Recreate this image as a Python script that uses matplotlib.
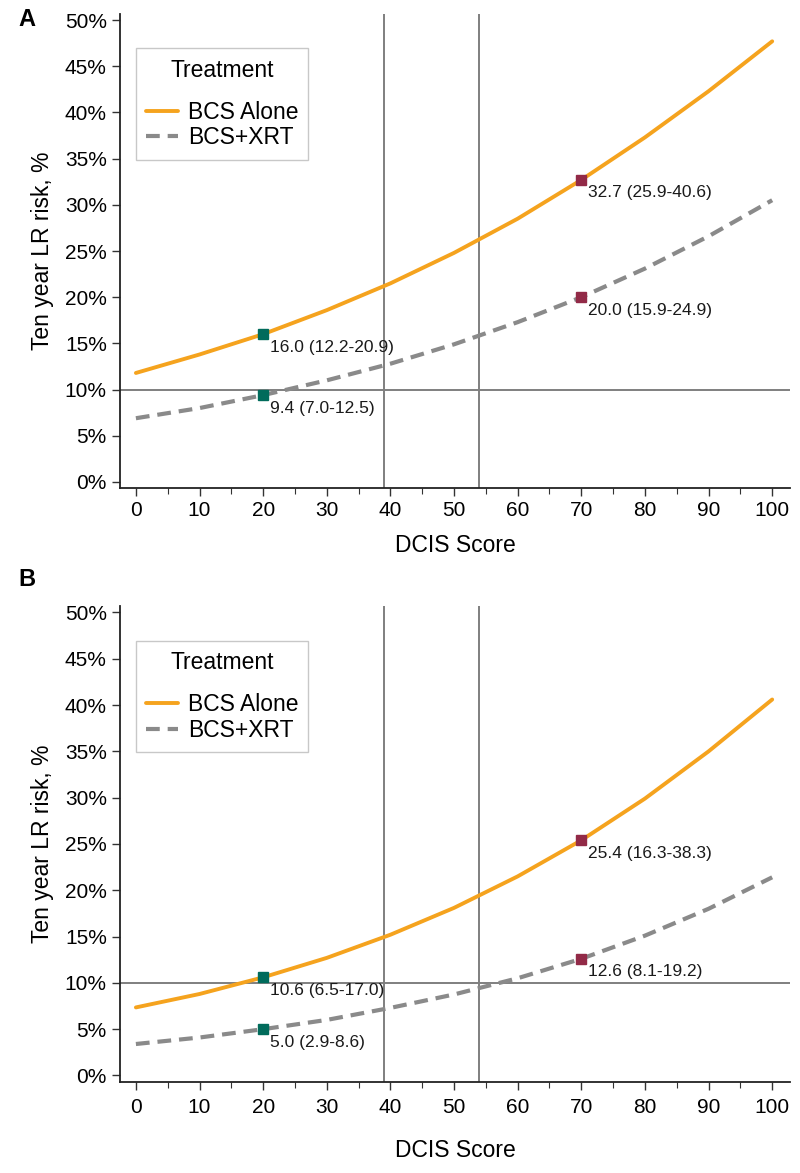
import matplotlib
matplotlib.use('Agg')
import matplotlib.pyplot as plt
from matplotlib.ticker import MultipleLocator, FuncFormatter

plt.rcParams['font.family'] = ['Liberation Sans', 'DejaVu Sans']

# DCIS score grid and ten year LR risk (%)
score = [0, 10, 20, 30, 40, 50, 60, 70, 80, 90, 100]
a_alone = [11.8, 13.8, 16.0, 18.6, 21.5, 24.8, 28.5, 32.7, 37.3, 42.3, 47.7]
a_xrt = [6.9, 8.0, 9.4, 11.0, 12.8, 14.9, 17.3, 20.0, 23.1, 26.6, 30.5]
b_alone = [7.35, 8.8, 10.6, 12.7, 15.2, 18.1, 21.5, 25.4, 29.9, 35.0, 40.6]
b_xrt = [3.4, 4.1, 5.0, 6.0, 7.3, 8.75, 10.5, 12.6, 15.1, 18.0, 21.4]

# highlighted points: (score, risk, label)
a_points = [(20, 16.0, '16.0 (12.2-20.9)'), (20, 9.4, '9.4 (7.0-12.5)'),
            (70, 32.7, '32.7 (25.9-40.6)'), (70, 20.0, '20.0 (15.9-24.9)')]
b_points = [(20, 10.6, '10.6 (6.5-17.0)'), (20, 5.0, '5.0 (2.9-8.6)'),
            (70, 25.4, '25.4 (16.3-38.3)'), (70, 12.6, '12.6 (8.1-19.2)')]

cutoffs = [39, 54]
risk_line = 10

ORANGE = '#F5A31E'
GRAY = '#8A8A8A'
REF = '#7F7F7F'
LOW = '#006B5B'
HIGH = '#922A47'


def draw_panel(ax, alone, xrt, points, tickpad, labelpad):
    ax.axhline(risk_line, color=REF, lw=1.4, zorder=1)
    for c in cutoffs:
        ax.axvline(c, color=REF, lw=1.4, zorder=1)
    ax.plot(score, alone, color=ORANGE, lw=2.8, label='BCS Alone',
            solid_capstyle='round', zorder=3)
    ax.plot(score, xrt, color=GRAY, lw=3.0, dashes=(3.3, 1.9),
            label='BCS+XRT', zorder=3)
    for x, y, txt in points:
        col = LOW if x < 50 else HIGH
        ax.plot(x, y, marker='s', ms=7.5, color=col, ls='none', zorder=4)
        ax.annotate(txt, (x, y), xytext=(5, -4), textcoords='offset points',
                    ha='left', va='top', fontsize=12.5, color='#1a1a1a')

    ax.set_xlim(-2.5, 102.8)
    ax.set_ylim(-0.65, 50.65)
    ax.xaxis.set_major_locator(MultipleLocator(10))
    ax.xaxis.set_minor_locator(MultipleLocator(5))
    ax.yaxis.set_major_locator(MultipleLocator(5))
    ax.yaxis.set_major_formatter(FuncFormatter(lambda v, p: '%d%%' % v))
    ax.tick_params(axis='both', which='major', labelsize=15, length=6,
                   width=1.0, color='#333333', direction='out')
    ax.tick_params(axis='x', which='major', pad=tickpad)
    ax.tick_params(axis='x', which='minor', length=4, width=0.8,
                   color='#333333')
    for s in ['top', 'right']:
        ax.spines[s].set_visible(False)
    for s in ['left', 'bottom']:
        ax.spines[s].set_color('#222222')
        ax.spines[s].set_linewidth(1.3)
    ax.set_xlabel('DCIS Score', fontsize=16.5, labelpad=labelpad)
    ax.set_ylabel('Ten year LR risk, %', fontsize=16.5, labelpad=8)

    leg = ax.legend(title='Treatment', loc='upper left',
                    bbox_to_anchor=(0.024, 0.928), borderaxespad=0,
                    fontsize=16.5, title_fontsize=16.5, frameon=True,
                    fancybox=False, handlelength=1.4, handletextpad=0.4,
                    borderpad=0.45, labelspacing=0.1)
    leg.get_frame().set_edgecolor('#BBBBBB')
    leg.get_frame().set_linewidth(1.0)
    leg._legend_box.sep = 14


fig = plt.figure(figsize=(8, 11.73), dpi=100)
ax_a = fig.add_axes([0.15, 0.584, 0.8375, 0.404])
ax_b = fig.add_axes([0.15, 0.078, 0.8375, 0.405])

draw_panel(ax_a, a_alone, a_xrt, a_points, 3.5, 10)
draw_panel(ax_b, b_alone, b_xrt, b_points, 6, 16)

fig.text(18 / 800, 1 - 20 / 1173, 'A', fontsize=17, fontweight='bold',
         va='center', ha='left')
fig.text(18 / 800, 1 - 580 / 1173, 'B', fontsize=17, fontweight='bold',
         va='center', ha='left')

fig.savefig('out.png', dpi=100)
